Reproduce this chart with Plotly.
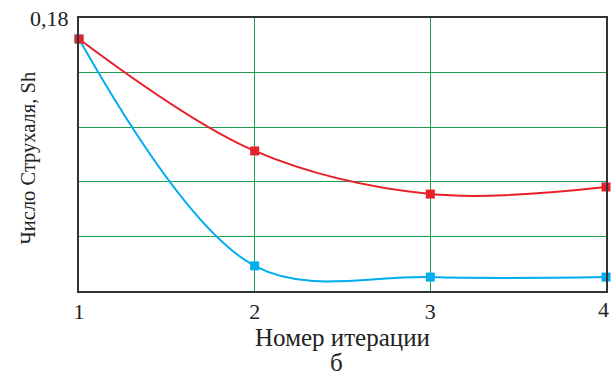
import plotly.graph_objects as go

iterations = [1, 2, 3, 4]
sh_red = [0.1723, 0.1313, 0.1155, 0.1181]
sh_blue = [0.1723, 0.0892, 0.0851, 0.0851]
y_grid = [0.08, 0.10, 0.12, 0.14, 0.16, 0.18]
y_top_label = "0,18"
x_ticktext = ["1", "2", "3", "4"]

font_family = "Liberation Serif"

fig = go.Figure()
fig.add_trace(go.Scatter(
    x=iterations, y=sh_blue, mode="lines+markers",
    line=dict(color="#00aeef", width=2, shape="spline", smoothing=1.0),
    marker=dict(symbol="square", size=9, color="#00aeef"),
    showlegend=False, cliponaxis=False))
fig.add_trace(go.Scatter(
    x=iterations, y=sh_red, mode="lines+markers",
    line=dict(color="#e8202a", width=2, shape="spline", smoothing=1.0),
    marker=dict(symbol="square", size=9, color="#e8202a"),
    showlegend=False, cliponaxis=False))

fig.update_layout(
    width=611, height=378,
    margin=dict(l=79, r=5, t=18, b=87, autoexpand=False),
    paper_bgcolor="white", plot_bgcolor="white",
    font=dict(family=font_family, size=22, color="#222"),
    xaxis=dict(
        range=[1, 4], tickvals=iterations[:-1], ticktext=x_ticktext[:-1],
        tickfont=dict(family=font_family, size=22),
        automargin=False,
        showgrid=True, gridcolor="#1f9e50", gridwidth=1,
        showline=True, linecolor="#333", linewidth=1.5, mirror=True,
        ticks="", zeroline=False,
        title=dict(text="Номер итерации", font=dict(family=font_family, size=25), standoff=4),
    ),
    yaxis=dict(
        range=[0.08, 0.18], tickvals=y_grid, showticklabels=False,
        automargin=False,
        showgrid=True, gridcolor="#1f9e50", gridwidth=1,
        showline=True, linecolor="#333", linewidth=1.5, mirror=True,
        ticks="", zeroline=False,
    ),
    annotations=[
        dict(text=y_top_label, x=0, y=y_grid[-1], xref="paper", yref="y",
             xanchor="right", yanchor="middle", xshift=-8,
             showarrow=False, font=dict(family=font_family, size=22)),
        dict(text=x_ticktext[-1], x=iterations[-1], y=0, xref="x", yref="paper",
             xanchor="center", yanchor="top", xshift=-3, yshift=-4,
             showarrow=False, font=dict(family=font_family, size=22)),
        dict(text="Число Струхаля, Sh", x=0, y=0.5, xref="paper", yref="paper",
             xanchor="center", yanchor="middle", xshift=-51, yshift=-4, textangle=-90,
             showarrow=False, font=dict(family=font_family, size=20.5)),
        dict(text="б", x=0.5, y=-0.318, xref="paper", yref="paper",
             xshift=-6, showarrow=False, font=dict(family=font_family, size=25),
             yanchor="bottom"),
    ],
)

fig.write_html("out.html")
